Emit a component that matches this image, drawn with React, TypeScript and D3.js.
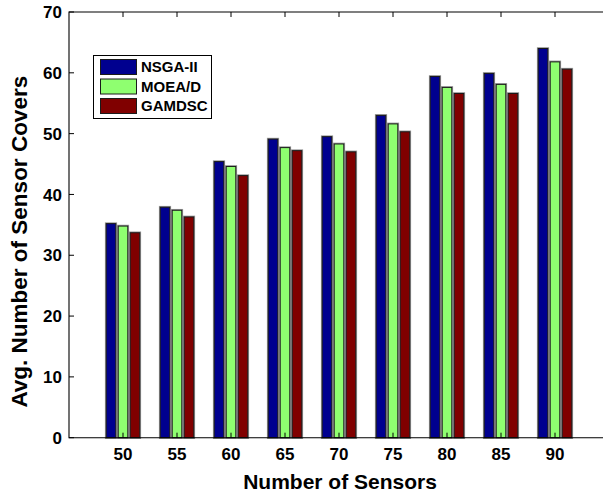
import React, { useEffect, useRef } from 'react';
import * as d3 from 'd3';

const sensors = ['50', '55', '60', '65', '70', '75', '80', '85', '90'];
const seriesNames = ['NSGA-II', 'MOEA/D', 'GAMDSC'];
const nsga = [35.2, 37.9, 45.4, 49.1, 49.5, 53.0, 59.4, 59.9, 64.0];
const moead = [34.8, 37.4, 44.6, 47.7, 48.3, 51.6, 57.6, 58.1, 61.8];
const gamdsc = [33.7, 36.3, 43.1, 47.2, 47.0, 50.3, 56.6, 56.6, 60.6];
const colors = ['#00008f', '#8fff70', '#800000'];
const yTicks = [0, 10, 20, 30, 40, 50, 60, 70];

const font = '"Liberation Sans", Arial, Helvetica, sans-serif';

const App = () => {
  const svgRef = useRef<SVGSVGElement>(null);

  useEffect(() => {
    document.body.style.margin = '0';
    document.body.style.overflow = 'hidden';

    const svg = d3.select(svgRef.current);
    svg.selectAll('*').remove();

    const left = 69, right = 609, top = 12, bottom = 437.7;

    // categories sit at 1..9, axis runs 0..10 (right edge falls off the picture)
    const x = d3.scaleLinear().domain([0, 10]).range([left, right]);
    const y = d3.scaleLinear().domain([0, 70]).range([bottom, top]);
    const xSub = d3.scaleBand()
      .domain(seriesNames)
      .range([-18, 18])
      .paddingInner(0.2)
      .paddingOuter(0.1);

    const allSeries = [nsga, moead, gamdsc];

    // bars
    allSeries.forEach((vals, si) => {
      const g = svg.append('g');
      g.selectAll('.halo')
        .data(vals)
        .enter()
        .append('rect')
        .attr('x', (d, i) => x(i + 1) + xSub(seriesNames[si])!)
        .attr('y', d => y(d))
        .attr('width', xSub.bandwidth())
        .attr('height', d => bottom - y(d))
        .attr('fill', 'none')
        .attr('stroke', '#9a9a9a')
        .attr('stroke-width', 2.6);
      g.selectAll('.bar')
        .data(vals)
        .enter()
        .append('rect')
        .attr('x', (d, i) => x(i + 1) + xSub(seriesNames[si])!)
        .attr('y', d => y(d))
        .attr('width', xSub.bandwidth())
        .attr('height', d => bottom - y(d))
        .attr('fill', colors[si])
        .attr('stroke', '#1a1a1a')
        .attr('stroke-width', 1);
    });

    // frame: left, top, bottom (right side is cut off)
    svg.append('path')
      .attr('d', `M${right + 10},${top}H${left}V${bottom}H${right + 10}`)
      .attr('fill', 'none')
      .attr('stroke', 'black')
      .attr('stroke-width', 1.1);

    // y ticks (inward) + labels
    yTicks.forEach(t => {
      svg.append('line')
        .attr('x1', left).attr('x2', left + 5)
        .attr('y1', y(t)).attr('y2', y(t))
        .attr('stroke', 'black');
      svg.append('text')
        .attr('x', 62)
        .attr('y', y(t))
        .attr('dy', '0.36em')
        .attr('text-anchor', 'end')
        .style('font-family', font)
        .style('font-size', '17px')
        .style('font-weight', 'bold')
        .text(t);
    });

    // x ticks (top and bottom, inward) + labels
    sensors.forEach((s, i) => {
      svg.append('line')
        .attr('x1', x(i + 1)).attr('x2', x(i + 1))
        .attr('y1', top).attr('y2', top + 5)
        .attr('stroke', 'black');
      svg.append('line')
        .attr('x1', x(i + 1)).attr('x2', x(i + 1))
        .attr('y1', bottom).attr('y2', bottom - 5)
        .attr('stroke', 'black');
      svg.append('text')
        .attr('x', x(i + 1))
        .attr('y', 459.5)
        .attr('text-anchor', 'middle')
        .style('font-family', font)
        .style('font-size', '17px')
        .style('font-weight', 'bold')
        .text(s);
    });

    // axis titles
    svg.append('text')
      .attr('x', 340)
      .attr('y', 488.5)
      .attr('text-anchor', 'middle')
      .style('font-family', font)
      .style('font-size', '21px')
      .style('font-weight', 'bold')
      .text('Number of Sensors');

    svg.append('text')
      .attr('transform', 'translate(26.5, 241.7) rotate(-90)')
      .attr('text-anchor', 'middle')
      .style('font-family', font)
      .style('font-size', '22.5px')
      .style('font-weight', 'bold')
      .text('Avg. Number of Sensor Covers');

    // legend
    const lg = svg.append('g');
    lg.append('rect')
      .attr('x', 93.5).attr('y', 55.5)
      .attr('width', 118).attr('height', 63)
      .attr('fill', 'white')
      .attr('stroke', 'black');
    seriesNames.forEach((name, i) => {
      const yy = 59.5 + i * 19.5;
      lg.append('rect')
        .attr('x', 100.5).attr('y', yy)
        .attr('width', 36).attr('height', 15)
        .attr('fill', colors[i])
        .attr('stroke', '#1a1a1a');
      lg.append('text')
        .attr('x', 141)
        .attr('y', yy + 7.5)
        .attr('dy', '0.36em')
        .style('font-family', font)
        .style('font-size', '15px')
        .style('font-weight', 'bold')
        .text(name);
    });
  }, []);

  return (
    <svg
      ref={svgRef}
      width={603}
      height={494}
      style={{ position: 'absolute', left: 0, top: 0, background: 'white', display: 'block' }}
    />
  );
};

export default App;
